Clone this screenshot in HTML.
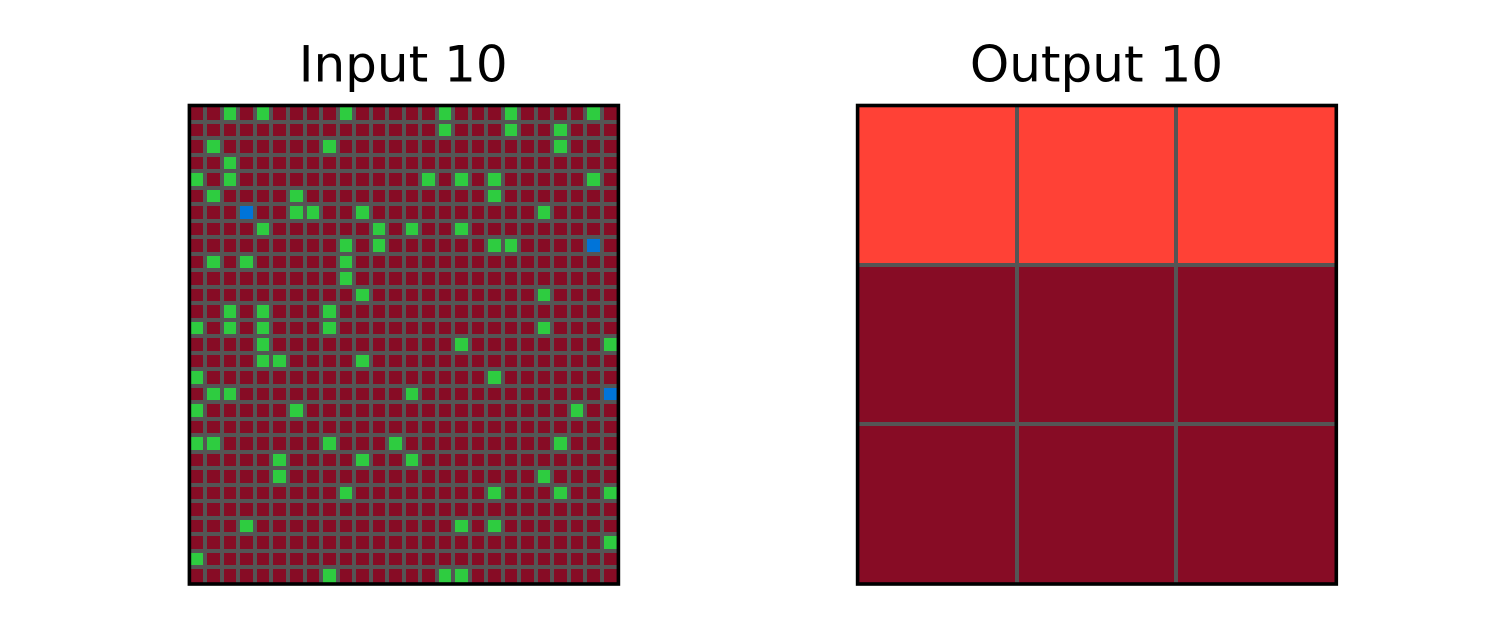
<!DOCTYPE html>
<html lang="en">
<head>
<meta charset="utf-8">
<title>Input 10 / Output 10</title>
<style>
  html, body { margin: 0; padding: 0; background: #ffffff; }
  body { width: 1500px; height: 629px; overflow: hidden; }
  svg { display: block; }
  text { font-family: "DejaVu Sans", "Liberation Sans", sans-serif; font-size: 50px; fill: #000000; }
</style>
</head>
<body>
<svg id="chart" xmlns="http://www.w3.org/2000/svg" width="1500" height="629" viewBox="0 0 1500 629">
  <rect x="0" y="0" width="1500" height="629" fill="#ffffff"></rect>
  <g id="input-panel"></g>
  <g id="output-panel"></g>
  <text x="403.2" y="81.4" text-anchor="middle">Input 10</text>
  <text x="1096.5" y="81.4" text-anchor="middle">Output 10</text>
</svg>
<script>
// Cell values, one string per row, one digit per column
const inputGrid = [
  "99393999939999939993999939",
  "99999999999999939993993999",
  "93999999399999999999993999",
  "99399999999999999999999999",
  "39399999999999393939999939",
  "93999939999999999939999999",
  "99919933993999999999939999",
  "99993999999393993999999999",
  "99999999939399999933999919",
  "93939999939999999999999999",
  "99999999939999999999999999",
  "99999999993999999999939999",
  "99393999399999999999999999",
  "39393999399999999999939999",
  "99993999999999993999999993",
  "99993399993999999999999999",
  "39999999999999999939999999",
  "93399999999993999999999991",
  "39999939999999999999999399",
  "99999999999999999999999999",
  "33999999399939999999993999",
  "99999399993993999999999999",
  "99999399999999999999939999",
  "99999999939999999939993993",
  "99999999999999999999999999",
  "99939999999999993939999999",
  "99999999999999999999999993",
  "39999999999999999999999999",
  "99999999399999933999999999"
];
const outputGrid = [
  "222",
  "999",
  "999"
];
const palette = { "1": "#0074D9", "2": "#FF4136", "3": "#2ECC40", "9": "#870C25" };

const SVG_NS = "http://www.w3.org/2000/svg";
const GRID_COLOR = "#555555";
const GRID_WIDTH = 4;

function drawPanel(group, grid, box, frameBox, prefix) {
  const rows = grid.length;
  const cols = grid[0].length;
  const xScale = function (c) { return box.left + (box.right - box.left) * c / cols; };
  const yScale = function (r) { return box.top + (box.bottom - box.top) * r / rows; };

  for (let r = 0; r < rows; r++) {
    for (let c = 0; c < cols; c++) {
      const cell = document.createElementNS(SVG_NS, "rect");
      
      
      cell.setAttribute("x", xScale(c));
      cell.setAttribute("y", yScale(r));
      cell.setAttribute("width", xScale(c + 1) - xScale(c));
      cell.setAttribute("height", yScale(r + 1) - yScale(r));
      cell.setAttribute("fill", palette[grid[r][c]]);
      cell.setAttribute("shape-rendering", "crispEdges");
      group.appendChild(cell);
    }
  }
  for (let c = 1; c < cols; c++) {
    const line = document.createElementNS(SVG_NS, "rect");
    
    
    line.setAttribute("x", Math.round(xScale(c) - GRID_WIDTH / 2));
    line.setAttribute("y", box.top);
    line.setAttribute("width", GRID_WIDTH);
    line.setAttribute("height", box.bottom - box.top);
    line.setAttribute("fill", GRID_COLOR);
    group.appendChild(line);
  }
  for (let r = 1; r < rows; r++) {
    const line = document.createElementNS(SVG_NS, "rect");
    
    
    line.setAttribute("x", box.left);
    line.setAttribute("y", Math.round(yScale(r) - GRID_WIDTH / 2));
    line.setAttribute("width", box.right - box.left);
    line.setAttribute("height", GRID_WIDTH);
    line.setAttribute("fill", GRID_COLOR);
    group.appendChild(line);
  }
  const frame = document.createElementNS(SVG_NS, "rect");
  
  
  frame.setAttribute("x", frameBox.left);
  frame.setAttribute("y", frameBox.top);
  frame.setAttribute("width", frameBox.right - frameBox.left);
  frame.setAttribute("height", frameBox.bottom - frameBox.top);
  frame.setAttribute("fill", "none");
  frame.setAttribute("stroke", "#000000");
  frame.setAttribute("stroke-width", 3.6);
  group.appendChild(frame);
}

drawPanel(document.getElementById("input-panel"), inputGrid,
  { left: 188.9, right: 618.4, top: 105.2, bottom: 584 },
  { left: 189.4, right: 618.4, top: 105.5, bottom: 584 }, "input");
drawPanel(document.getElementById("output-panel"), outputGrid,
  { left: 857.2, right: 1335.4, top: 105.2, bottom: 584 },
  { left: 857.6, right: 1336.3, top: 105.5, bottom: 584 }, "output");
</script>
</body>
</html>
